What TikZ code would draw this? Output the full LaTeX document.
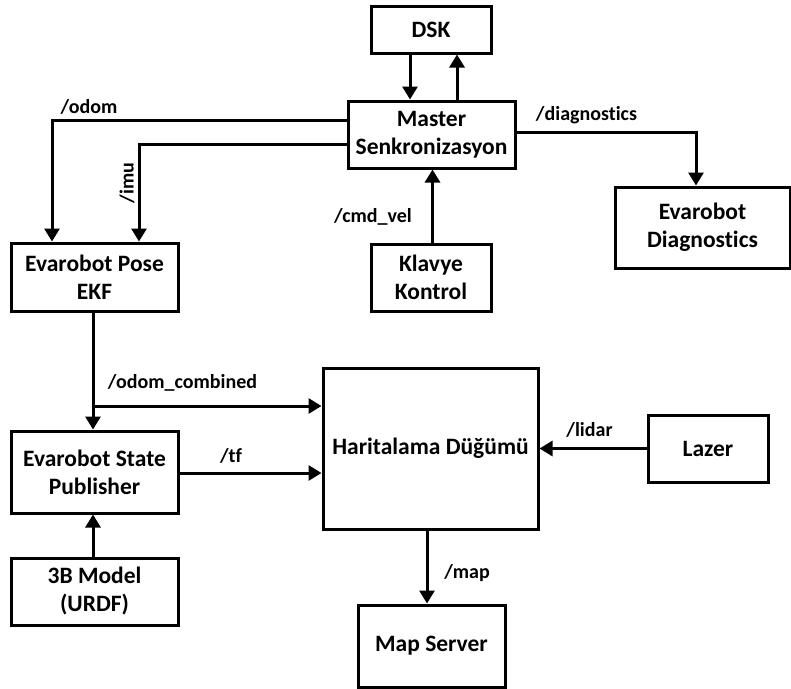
\documentclass[tikz,border=0pt]{standalone}
\usepackage{fontspec}
\setmainfont{Carlito}[Ligatures=NoCommon]
\usepackage{tikz}
\usetikzlibrary{arrows.meta, positioning, calc}
\definecolor{lnblack}{HTML}{000000}

\begin{document}
\begin{tikzpicture}[
  x=1pt, y=-1pt,
  every node/.style={font=\fontsize{23.5}{28}\selectfont\bfseries},
  rosbox/.style={rectangle, draw=lnblack, line width=3pt, fill=white, minimum width=120pt, minimum height=67pt, align=center, inner sep=2pt},
  topiclbl/.style={inner sep=1pt, font=\fontsize{20}{24}\selectfont\bfseries},
  msg/.style={-{Triangle[length=13pt, width=15pt]}, line width=3pt, lnblack},
]
\useasboundingbox (0,0) rectangle (791,688);

% Top: DSK and master node
\node[rosbox, minimum height=47pt] (dsk) at (431, 29.5) {DSK};
\node[rosbox, minimum width=167pt] (master) at (431.5, 134.5) {Master\\Senkronizasyon};

\draw[msg] ([xshift=-21pt]dsk.south) -- ([xshift=-21.5pt]master.north);
\draw[msg] ([xshift=25.5pt]master.north) -- ([xshift=26pt]dsk.south);

% Left side: pose filter
\node[rosbox, minimum width=167pt, minimum height=68pt] (pose) at (94.5, 277) {Evarobot Pose\\EKF};

\draw[msg] ([yshift=14.5pt]master.west) -| ([xshift=-42.5pt]pose.north);
\draw[msg] ([yshift=-9.5pt]master.west) -| ([xshift=44.5pt]pose.north);

\node[topiclbl] (odomlbl) at (89, 107) {/odom};
\node[topiclbl, rotate=90] (imulbl) at (127, 183) {/imu};

% Keyboard and diagnostics
\node[rosbox] (klavye) at (431, 277.5) {Klavye\\Kontrol};
\node[rosbox, minimum width=175pt, minimum height=81pt] (diag) at (702.5, 227.5) {Evarobot\\Diagnostics};

\draw[msg] ([xshift=1.5pt]klavye.north) -- ([xshift=1pt]master.south);
\draw[msg] ([yshift=2.5pt]master.east) -| ([xshift=-6.5pt]diag.north);

\node[topiclbl] (cmdlbl) at (373, 217) {/cmd\_vel};
\node[topiclbl] (diaglbl) at (586.5, 115) {/diagnostics};

% Bottom: mapping
\node[rosbox, minimum width=215pt, minimum height=161pt] (harita) at (430.5, 448.5) {Haritalama Düğümü};
\node[rosbox, minimum width=167pt, minimum height=82pt] (pub) at (94.5, 472) {Evarobot State\\Publisher};
\node[rosbox, minimum width=167pt] (model) at (94.5, 591.5) {3B Model\\(URDF)};
\node[rosbox] (lazer) at (708, 448.5) {Lazer};
\node[rosbox, minimum width=147pt, minimum height=82pt] (mapsrv) at (431.5, 646) {Map Server};

\coordinate (odomsplit) at (93, 406);

\draw[msg] ([xshift=-1.5pt]pose.south) -- ([xshift=-1.5pt]pub.north);
\draw[msg] (odomsplit) -- (odomsplit -| harita.west);
\draw[msg] ([yshift=-1pt]pub.east) -- ([yshift=-1pt]pub.east -| harita.west);
\draw[msg] ([xshift=-1.5pt]model.north) -- ([xshift=-1.5pt]pub.south);
\draw[msg] (lazer.west) -- (lazer.west -| harita.east);
\draw[msg] ([xshift=-3.5pt]harita.south) -- ([xshift=-4.5pt]mapsrv.north);

\node[topiclbl] (comblbl) at (182.5, 383) {/odom\_combined};
\node[topiclbl] (tflbl) at (231, 456) {/tf};
\node[topiclbl] (lidarlbl) at (589.5, 430) {/lidar};
\node[topiclbl] (maplbl) at (467, 573) {/map};

\end{tikzpicture}
\end{document}
